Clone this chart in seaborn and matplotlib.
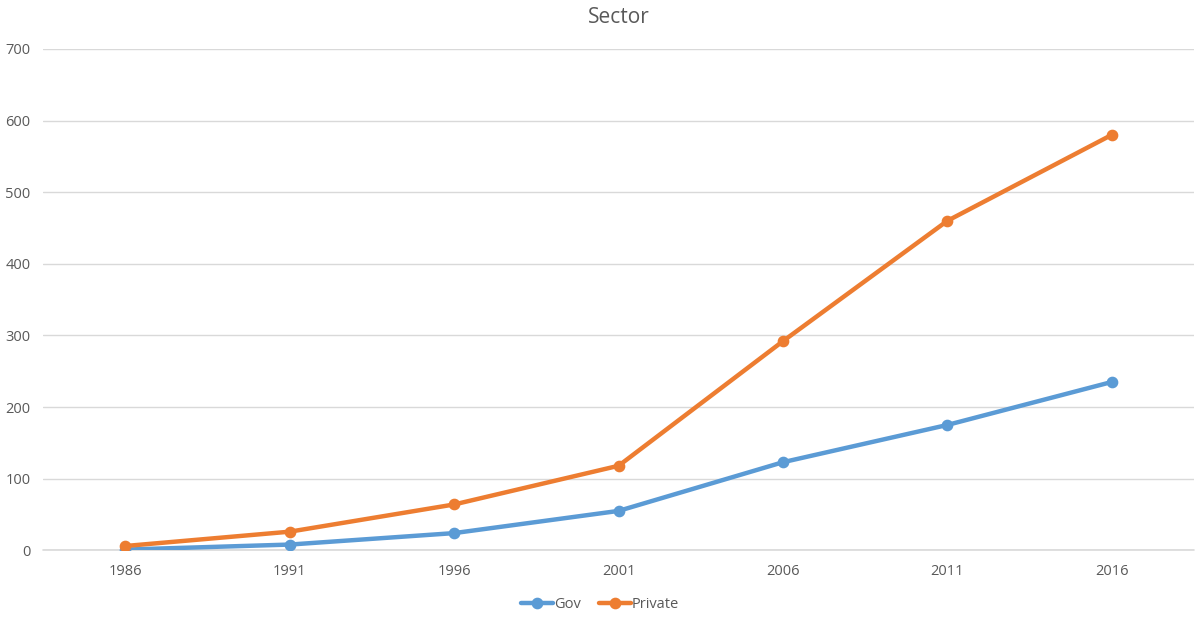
import numpy as np
import pandas as pd
import matplotlib
matplotlib.use('Agg')
import matplotlib.pyplot as plt
import seaborn as sns

years = ['1986', '1991', '1996', '2001', '2006', '2011', '2016']
gov = [1, 8, 24, 55, 123, 175, 235]
private = [6, 26, 64, 118, 292, 460, 580]

df = pd.DataFrame({'Year': years * 2,
                   'Value': gov + private,
                   'Sector': ['Gov'] * 7 + ['Private'] * 7})

sns.set_theme(style='white')
plt.rcParams['font.family'] = ['Open Sans', 'DejaVu Sans']
txt = '#595959'

fig = plt.figure(figsize=(12, 6.19), dpi=100)
ax = fig.add_axes([0.036, 0.111, 0.959, 0.81])

sns.pointplot(data=df, x='Year', y='Value', hue='Sector',
              palette={'Gov': '#5B9BD5', 'Private': '#ED7D31'},
              markers='o', markersize=6, linewidth=3.2, ax=ax)

ax.set_ylim(0, 700)
ax.set_xlim(-0.5, 6.5)
ax.set_yticks(range(0, 701, 100))
ax.yaxis.grid(True, color='#D9D9D9', linewidth=1)
ax.axhline(0, color='#D9D9D9', linewidth=1.2, zorder=0, clip_on=False)
ax.set_axisbelow(True)
for s in ax.spines.values():
    s.set_visible(False)
ax.tick_params(length=0, labelsize=10.5, colors=txt, pad=10)
ax.tick_params(axis='y', pad=9)
ax.set_xlabel('')
ax.set_ylabel('')
ax.set_title('Sector', fontsize=15, color=txt, pad=19)

h, l = ax.get_legend_handles_labels()
ax.legend_.remove()
fig.legend(h, l, loc='center', bbox_to_anchor=(0.5, 0.024), ncol=2,
           frameon=False, fontsize=10.5, labelcolor=txt, handlelength=2.2,
           handletextpad=0.1, columnspacing=1.2)

fig.savefig('out.png', dpi=100)
